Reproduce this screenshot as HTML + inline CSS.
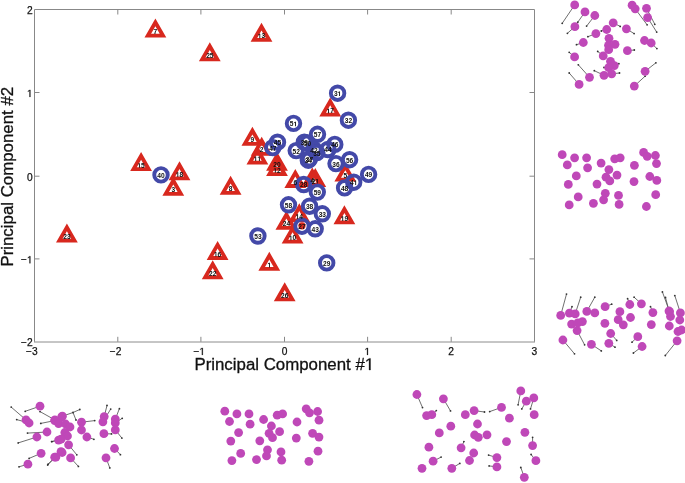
<!DOCTYPE html>
<html><head><meta charset="utf-8"><title>PCA</title>
<style>html,body{margin:0;padding:0;background:#fff;}body{width:685px;height:483px;overflow:hidden;font-family:"Liberation Sans",sans-serif;}svg{display:block;will-change:transform;filter:blur(0.35px);}</style>
</head><body>
<svg width="685" height="483" viewBox="0 0 685 483">
<rect width="685" height="483" fill="#fff"/>
<g stroke="#888888" stroke-width="1" fill="none">
<path d="M34.5 341.8V9.5H534.5V341.8"/>
<path d="M34 342H535" stroke="#8c8c8c"/>
<path d="M117.8 341.8v-5 M117.8 9.5v5"/>
<path d="M200.9 341.8v-5 M200.9 9.5v5"/>
<path d="M284.5 341.8v-5 M284.5 9.5v5"/>
<path d="M367.6 341.8v-5 M367.6 9.5v5"/>
<path d="M451.2 341.8v-5 M451.2 9.5v5"/>
<path d="M34.5 92.5h5 M534.5 92.5h-5"/>
<path d="M34.5 176.2h5 M534.5 176.2h-5"/>
<path d="M34.5 258.9h5 M534.5 258.9h-5"/>
</g>
<g font-family="Liberation Sans, sans-serif" font-size="10.2" fill="#111" stroke="#111" stroke-width="0.25">
<text id="t1" x="31.8" y="354.9" text-anchor="middle">−3</text>
<text id="t2" x="115.5" y="354.9" text-anchor="middle">−2</text>
<text id="t3" x="199.2" y="354.9" text-anchor="middle">− </text><path transform="translate(199.32 354.90) scale(0.00498 -0.00498)" stroke-width="50.2" d="M515 0V1237L197 1010V1180L530 1409H696V0Z"/>
<text id="t4" x="284.5" y="354.9" text-anchor="middle">0</text>
<text id="t5" x="367.3" y="354.9" text-anchor="middle"> </text><path transform="translate(364.46 354.90) scale(0.00498 -0.00498)" stroke-width="50.2" d="M515 0V1237L197 1010V1180L530 1409H696V0Z"/>
<text id="t6" x="451.2" y="354.9" text-anchor="middle">2</text>
<text id="t7" x="534.3" y="354.9" text-anchor="middle">3</text>
<text id="t8" x="32.6" y="13.9" text-anchor="end">2</text>
<text id="t9" x="32.6" y="96.9" text-anchor="end"> </text><path transform="translate(26.93 96.90) scale(0.00498 -0.00498)" stroke-width="50.2" d="M515 0V1237L197 1010V1180L530 1409H696V0Z"/>
<text id="t10" x="32.6" y="180.6" text-anchor="end">0</text>
<text id="t11" x="32.6" y="263.3" text-anchor="end">− </text><path transform="translate(26.91 263.30) scale(0.00498 -0.00498)" stroke-width="50.2" d="M515 0V1237L197 1010V1180L530 1409H696V0Z"/>
<text id="t12" x="32.6" y="346.2" text-anchor="end">−2</text>
</g>
<g font-family="Liberation Sans, sans-serif" font-size="16.85" fill="#111" stroke="#111" stroke-width="0.3">
<text id="t13" x="284.3" y="370" text-anchor="middle">Principal Component # </text><path transform="translate(364.80 370.00) scale(0.00823 -0.00823)" stroke-width="36.5" d="M515 0V1237L197 1010V1180L530 1409H696V0Z"/>
</g>
<text transform="translate(12.9 176.7) rotate(-90)" x="0" y="0" text-anchor="middle" font-family="Liberation Sans, sans-serif" font-size="16.85" fill="#111" stroke="#111" stroke-width="0.3">Principal Component #2</text>
<g fill="#d8281e" fill-rule="evenodd">
<path d="M66.9 223.5L77.8 242.5L56 242.5ZM66.9 231.2L62.6 238.7L71.2 238.7Z"/>
<path d="M141.1 152.1L152 171.1L130.2 171.1ZM141.1 159.8L136.8 167.3L145.4 167.3Z"/>
<path d="M155.4 18.5L166.3 37.5L144.5 37.5ZM155.4 26.2L151.1 33.7L159.7 33.7Z"/>
<path d="M179.5 161.3L190.4 180.3L168.6 180.3ZM179.5 169L175.2 176.5L183.8 176.5Z"/>
<path d="M173.3 176.8L184.2 195.8L162.4 195.8ZM173.3 184.5L169 192L177.6 192Z"/>
<path d="M209.8 42.3L220.7 61.3L198.9 61.3ZM209.8 50L205.5 57.5L214.1 57.5Z"/>
<path d="M230.6 175.8L241.5 194.8L219.7 194.8ZM230.6 183.5L226.3 191L234.9 191Z"/>
<path d="M217.6 240.9L228.5 259.9L206.7 259.9ZM217.6 248.6L213.3 256.1L221.9 256.1Z"/>
<path d="M212.7 260.3L223.6 279.3L201.8 279.3ZM212.7 268L208.4 275.5L217 275.5Z"/>
<path d="M261.5 22.7L272.4 41.7L250.6 41.7ZM261.5 30.4L257.2 37.9L265.8 37.9Z"/>
<path d="M252.4 126.8L263.3 145.8L241.5 145.8ZM252.4 134.5L248.1 142L256.7 142Z"/>
<path d="M261.7 136.8L272.6 155.8L250.8 155.8ZM261.7 144.5L257.4 152L266 152Z"/>
<path d="M257.4 145.5L268.3 164.5L246.5 164.5ZM257.4 153.2L253.1 160.7L261.7 160.7Z"/>
<path d="M277 151.8L287.9 170.8L266.1 170.8ZM277 159.5L272.7 167L281.3 167Z"/>
<path d="M277 157.1L287.9 176.1L266.1 176.1ZM277 164.8L272.7 172.3L281.3 172.3Z"/>
<path d="M269.3 251.8L280.2 270.8L258.4 270.8ZM269.3 259.5L265 267L273.6 267Z"/>
<path d="M284.7 282.3L295.6 301.3L273.8 301.3ZM284.7 290L280.4 297.5L289 297.5Z"/>
<path d="M295.3 168.9L306.2 187.9L284.4 187.9ZM295.3 176.6L291 184.1L299.6 184.1Z"/>
<path d="M312.3 167.5L323.2 186.5L301.4 186.5ZM312.3 175.2L308 182.7L316.6 182.7Z"/>
<path d="M315.3 167.9L326.2 186.9L304.4 186.9ZM315.3 175.6L311 183.1L319.6 183.1Z"/>
<path d="M299.3 203.3L310.2 222.3L288.4 222.3ZM299.3 211L295 218.5L303.6 218.5Z"/>
<path d="M286.4 210.8L297.3 229.8L275.5 229.8ZM286.4 218.5L282.1 226L290.7 226Z"/>
<path d="M292.6 224.6L303.5 243.6L281.7 243.6ZM292.6 232.3L288.3 239.8L296.9 239.8Z"/>
<path d="M330.2 97.6L341.1 116.6L319.3 116.6ZM330.2 105.3L325.9 112.8L334.5 112.8Z"/>
<path d="M345.3 162.5L356.2 181.5L334.4 181.5ZM345.3 170.2L341 177.7L349.6 177.7Z"/>
<path d="M344.4 205.3L355.3 224.3L333.5 224.3ZM344.4 213L340.1 220.5L348.7 220.5Z"/>
</g>
<circle cx="302.0" cy="225.8" r="3.6" fill="#d8281e"/>
<g fill="none" stroke="#4349a8" stroke-width="3.9">
<circle cx="161" cy="174.9" r="6.75"/>
<circle cx="277.5" cy="142.2" r="6.75"/>
<circle cx="272.8" cy="147.6" r="6.75"/>
<circle cx="293.5" cy="123.4" r="6.75"/>
<circle cx="296.2" cy="150.6" r="6.75"/>
<circle cx="304.3" cy="142.2" r="6.75"/>
<circle cx="307.5" cy="143" r="6.75"/>
<circle cx="317.5" cy="134.3" r="6.75"/>
<circle cx="314" cy="149.6" r="6.75"/>
<circle cx="316.8" cy="152.6" r="6.75"/>
<circle cx="309.5" cy="158.8" r="6.75"/>
<circle cx="308.3" cy="160.2" r="6.75"/>
<circle cx="328" cy="149.5" r="6.75"/>
<circle cx="334.8" cy="144.4" r="6.75"/>
<circle cx="336" cy="163.6" r="6.75"/>
<circle cx="349.6" cy="159.7" r="6.75"/>
<circle cx="337.6" cy="93.2" r="6.75"/>
<circle cx="348.4" cy="120.2" r="6.75"/>
<circle cx="368.6" cy="174.4" r="6.75"/>
<circle cx="353.7" cy="182.2" r="6.75"/>
<circle cx="344.6" cy="187.9" r="6.75"/>
<circle cx="303.7" cy="184.5" r="6.75"/>
<circle cx="317.3" cy="192.1" r="6.75"/>
<circle cx="288.5" cy="204.8" r="6.75"/>
<circle cx="309.6" cy="206.2" r="6.75"/>
<circle cx="322.3" cy="213.8" r="6.75"/>
<circle cx="302" cy="226.2" r="6.75"/>
<circle cx="315.2" cy="228.8" r="6.75"/>
<circle cx="257.9" cy="236" r="6.75"/>
<circle cx="326.7" cy="262.9" r="6.75"/>
</g>
<g font-family="Liberation Sans, sans-serif" font-size="6.6" font-weight="bold" fill="#111" text-anchor="middle">
<text id="t14" x="66.9" y="239.1">23</text>
<text id="t15" x="141.1" y="167.7"> 5</text><path transform="translate(137.43 167.70) scale(0.00322 -0.00322)" stroke="none" d="M478 0V1170L140 959V1180L493 1409H759V0Z"/>
<text id="t16" x="155.4" y="34.1">7</text>
<text id="t17" x="179.5" y="176.9"> 8</text><path transform="translate(175.83 176.90) scale(0.00322 -0.00322)" stroke="none" d="M478 0V1170L140 959V1180L493 1409H759V0Z"/>
<text id="t18" x="173.3" y="192.4">3</text>
<text id="t19" x="209.8" y="57.9">25</text>
<text id="t20" x="230.6" y="191.4">8</text>
<text id="t21" x="217.6" y="256.5"> 6</text><path transform="translate(213.93 256.50) scale(0.00322 -0.00322)" stroke="none" d="M478 0V1170L140 959V1180L493 1409H759V0Z"/>
<text id="t22" x="212.7" y="275.9">22</text>
<text id="t23" x="261.5" y="38.3"> 3</text><path transform="translate(257.83 38.30) scale(0.00322 -0.00322)" stroke="none" d="M478 0V1170L140 959V1180L493 1409H759V0Z"/>
<text id="t24" x="252.4" y="142.4">9</text>
<text id="t25" x="261.7" y="152.4">2</text>
<text id="t26" x="257.4" y="161.1">  </text><path transform="translate(253.73 161.10) scale(0.00322 -0.00322)" stroke="none" d="M478 0V1170L140 959V1180L493 1409H759V0Z"/><path transform="translate(257.38 161.10) scale(0.00322 -0.00322)" stroke="none" d="M478 0V1170L140 959V1180L493 1409H759V0Z"/>
<text id="t27" x="277" y="167.4">20</text>
<text id="t28" x="277" y="172.7"> 2</text><path transform="translate(273.33 172.70) scale(0.00322 -0.00322)" stroke="none" d="M478 0V1170L140 959V1180L493 1409H759V0Z"/>
<text id="t29" x="269.3" y="267.4"> </text><path transform="translate(267.46 267.40) scale(0.00322 -0.00322)" stroke="none" d="M478 0V1170L140 959V1180L493 1409H759V0Z"/>
<text id="t30" x="284.7" y="297.9">26</text>
<text id="t31" x="295.3" y="184.5">6</text>
<text id="t32" x="312.3" y="183.1">4</text>
<text id="t33" x="315.3" y="183.5">2 </text><path transform="translate(315.28 183.50) scale(0.00322 -0.00322)" stroke="none" d="M478 0V1170L140 959V1180L493 1409H759V0Z"/>
<text id="t34" x="299.3" y="218.9"> 4</text><path transform="translate(295.63 218.90) scale(0.00322 -0.00322)" stroke="none" d="M478 0V1170L140 959V1180L493 1409H759V0Z"/>
<text id="t35" x="286.4" y="226.4">24</text>
<text id="t36" x="292.6" y="240.2"> 0</text><path transform="translate(288.93 240.20) scale(0.00322 -0.00322)" stroke="none" d="M478 0V1170L140 959V1180L493 1409H759V0Z"/>
<text id="t37" x="330.2" y="113.2"> 7</text><path transform="translate(326.53 113.20) scale(0.00322 -0.00322)" stroke="none" d="M478 0V1170L140 959V1180L493 1409H759V0Z"/>
<text id="t38" x="345.3" y="178.1">5</text>
<text id="t39" x="344.4" y="220.9"> 9</text><path transform="translate(340.73 220.90) scale(0.00322 -0.00322)" stroke="none" d="M478 0V1170L140 959V1180L493 1409H759V0Z"/>
<text id="t40" x="161" y="177.8">40</text>
<text id="t41" x="277.5" y="145.1">45</text>
<text id="t42" x="272.8" y="150.5">47</text>
<text id="t43" x="293.5" y="126.3">5 </text><path transform="translate(293.48 126.30) scale(0.00322 -0.00322)" stroke="none" d="M478 0V1170L140 959V1180L493 1409H759V0Z"/>
<text id="t44" x="296.2" y="153.5">52</text>
<text id="t45" x="304.3" y="145.1">39</text>
<text id="t46" x="307.5" y="145.9">50</text>
<text id="t47" x="317.5" y="137.2">57</text>
<text id="t48" x="314" y="152.5">42</text>
<text id="t49" x="316.8" y="155.5">35</text>
<text id="t50" x="309.5" y="161.7">37</text>
<text id="t51" x="308.3" y="163.1">34</text>
<text id="t52" x="328" y="152.4">44</text>
<text id="t53" x="334.8" y="147.3">46</text>
<text id="t54" x="336" y="166.5">36</text>
<text id="t55" x="349.6" y="162.6">56</text>
<text id="t56" x="337.6" y="96.1">3 </text><path transform="translate(337.58 96.10) scale(0.00322 -0.00322)" stroke="none" d="M478 0V1170L140 959V1180L493 1409H759V0Z"/>
<text id="t57" x="348.4" y="123.1">32</text>
<text id="t58" x="368.6" y="177.3">49</text>
<text id="t59" x="353.7" y="185.1">4 </text><path transform="translate(353.68 185.10) scale(0.00322 -0.00322)" stroke="none" d="M478 0V1170L140 959V1180L493 1409H759V0Z"/>
<text id="t60" x="344.6" y="190.8">48</text>
<text id="t61" x="303.7" y="187.4">28</text>
<text id="t62" x="317.3" y="195">59</text>
<text id="t63" x="288.5" y="207.7">58</text>
<text id="t64" x="309.6" y="209.1">38</text>
<text id="t65" x="322.3" y="216.7">33</text>
<text id="t66" x="302" y="229.1">27</text>
<text id="t67" x="315.2" y="231.7">43</text>
<text id="t68" x="257.9" y="238.9">53</text>
<text id="t69" x="326.7" y="265.8">29</text>
</g>
<g stroke="#555" stroke-width="0.85" fill="none"><line x1="574.7" y1="4.9" x2="562.2" y2="23.3"/><line x1="585" y1="11.9" x2="577.8" y2="22.2"/><line x1="594.8" y1="15.5" x2="586.6" y2="26.1"/><line x1="574.9" y1="26.7" x2="567.4" y2="33.3"/><line x1="595.9" y1="33.6" x2="587.9" y2="36.7"/><line x1="583.3" y1="42.5" x2="576.5" y2="44.7"/><line x1="613.2" y1="22.8" x2="620.2" y2="26.4"/><line x1="606.7" y1="29.5" x2="601.3" y2="31"/><line x1="635.2" y1="8.8" x2="647.1" y2="24.8"/><line x1="646.5" y1="8.3" x2="654.8" y2="24.3"/><line x1="647.6" y1="17.6" x2="656.7" y2="32.1"/><line x1="626.4" y1="28.8" x2="634.1" y2="33.6"/><line x1="651.2" y1="43" x2="656.9" y2="48.6"/><line x1="627.4" y1="50.7" x2="634.3" y2="50"/><line x1="574.6" y1="56.9" x2="569.2" y2="52.3"/><line x1="589.5" y1="77.3" x2="578.3" y2="64.8"/><line x1="579.1" y1="84.4" x2="569.2" y2="73"/><line x1="603.2" y1="55.9" x2="597.7" y2="51.4"/><line x1="614.3" y1="65.6" x2="618.9" y2="63.7"/><line x1="608.7" y1="67.7" x2="604" y2="67.5"/><line x1="604" y1="75.3" x2="594.3" y2="70.7"/><line x1="611.7" y1="73.8" x2="619.5" y2="73"/><line x1="645.1" y1="71.3" x2="655.9" y2="62.8"/><line x1="634.3" y1="86.1" x2="645.1" y2="76.2"/></g><g fill="#333"><circle cx="562.2" cy="23.3" r="0.9"/><circle cx="577.8" cy="22.2" r="0.9"/><circle cx="586.6" cy="26.1" r="0.9"/><circle cx="567.4" cy="33.3" r="0.9"/><circle cx="587.9" cy="36.7" r="0.9"/><circle cx="576.5" cy="44.7" r="0.9"/><circle cx="620.2" cy="26.4" r="0.9"/><circle cx="601.3" cy="31" r="0.9"/><circle cx="647.1" cy="24.8" r="0.9"/><circle cx="654.8" cy="24.3" r="0.9"/><circle cx="656.7" cy="32.1" r="0.9"/><circle cx="634.1" cy="33.6" r="0.9"/><circle cx="656.9" cy="48.6" r="0.9"/><circle cx="634.3" cy="50" r="0.9"/><circle cx="569.2" cy="52.3" r="0.9"/><circle cx="578.3" cy="64.8" r="0.9"/><circle cx="569.2" cy="73" r="0.9"/><circle cx="597.7" cy="51.4" r="0.9"/><circle cx="618.9" cy="63.7" r="0.9"/><circle cx="604" cy="67.5" r="0.9"/><circle cx="594.3" cy="70.7" r="0.9"/><circle cx="619.5" cy="73" r="0.9"/><circle cx="655.9" cy="62.8" r="0.9"/><circle cx="645.1" cy="76.2" r="0.9"/></g><g fill="#bf48b8"><circle cx="574.7" cy="4.9" r="4.4"/><circle cx="585" cy="11.9" r="4.4"/><circle cx="594.8" cy="15.5" r="4.4"/><circle cx="574.9" cy="26.7" r="4.4"/><circle cx="595.9" cy="33.6" r="4.4"/><circle cx="583.3" cy="42.5" r="4.4"/><circle cx="613.2" cy="22.8" r="4.4"/><circle cx="606.7" cy="29.5" r="4.4"/><circle cx="609" cy="38.3" r="4.4"/><circle cx="608.5" cy="45.3" r="4.4"/><circle cx="615" cy="44.3" r="4.4"/><circle cx="608.7" cy="49.7" r="4.4"/><circle cx="632.1" cy="5.2" r="4.4"/><circle cx="635.2" cy="8.8" r="4.4"/><circle cx="646.5" cy="8.3" r="4.4"/><circle cx="647.6" cy="17.6" r="4.4"/><circle cx="626.4" cy="28.8" r="4.4"/><circle cx="644.5" cy="40.5" r="4.4"/><circle cx="651.2" cy="43" r="4.4"/><circle cx="627.4" cy="50.7" r="4.4"/><circle cx="574.6" cy="56.9" r="4.4"/><circle cx="589.5" cy="77.3" r="4.4"/><circle cx="579.1" cy="84.4" r="4.4"/><circle cx="603.2" cy="55.9" r="4.4"/><circle cx="610.5" cy="61.3" r="4.4"/><circle cx="614.3" cy="65.6" r="4.4"/><circle cx="608.7" cy="67.7" r="4.4"/><circle cx="604" cy="75.3" r="4.4"/><circle cx="611.7" cy="73.8" r="4.4"/><circle cx="645.1" cy="71.3" r="4.4"/><circle cx="634.3" cy="86.1" r="4.4"/></g>
<g stroke="#555" stroke-width="0.85" fill="none"></g><g fill="#333"></g><g fill="#bf48b8"><circle cx="562.2" cy="154.7" r="4.4"/><circle cx="574.6" cy="157.8" r="4.4"/><circle cx="586.6" cy="157.8" r="4.4"/><circle cx="567.3" cy="164.9" r="4.4"/><circle cx="587.6" cy="167.8" r="4.4"/><circle cx="601.1" cy="163.1" r="4.4"/><circle cx="614.7" cy="158.8" r="4.4"/><circle cx="620.2" cy="157.8" r="4.4"/><circle cx="608.9" cy="169.6" r="4.4"/><circle cx="617" cy="175.1" r="4.4"/><circle cx="606" cy="177.2" r="4.4"/><circle cx="609.8" cy="180.9" r="4.4"/><circle cx="576.3" cy="175.9" r="4.4"/><circle cx="568.3" cy="184.4" r="4.4"/><circle cx="597" cy="184.1" r="4.4"/><circle cx="605.3" cy="193.3" r="4.4"/><circle cx="603.6" cy="199.8" r="4.4"/><circle cx="618.5" cy="195.4" r="4.4"/><circle cx="619.1" cy="204.4" r="4.4"/><circle cx="578.2" cy="196.9" r="4.4"/><circle cx="569.2" cy="204.9" r="4.4"/><circle cx="593.4" cy="203.3" r="4.4"/><circle cx="634.4" cy="165.3" r="4.4"/><circle cx="634" cy="181.6" r="4.4"/><circle cx="643.6" cy="152.4" r="4.4"/><circle cx="647.2" cy="156.3" r="4.4"/><circle cx="655.4" cy="155.5" r="4.4"/><circle cx="656.5" cy="163.6" r="4.4"/><circle cx="649.8" cy="176.5" r="4.4"/><circle cx="656.8" cy="180.4" r="4.4"/><circle cx="655.7" cy="194.7" r="4.4"/><circle cx="646.4" cy="206.5" r="4.4"/></g>
<g stroke="#555" stroke-width="0.85" fill="none"><line x1="560.7" y1="315.4" x2="566.5" y2="294.1"/><line x1="569.4" y1="313.2" x2="572" y2="306.7"/><line x1="575.2" y1="313.9" x2="580.7" y2="297.2"/><line x1="586.8" y1="311.4" x2="594.8" y2="297.2"/><line x1="577.1" y1="330.6" x2="584.6" y2="344.8"/><line x1="562.9" y1="340" x2="574.5" y2="353.8"/><line x1="591.4" y1="344.3" x2="601.3" y2="350.9"/><line x1="605.1" y1="306.7" x2="611.7" y2="304.2"/><line x1="629.8" y1="304.5" x2="627.6" y2="298.7"/><line x1="641.4" y1="303.8" x2="634.1" y2="297.2"/><line x1="610.7" y1="333.5" x2="616.7" y2="340.4"/><line x1="608.8" y1="343.3" x2="615" y2="347.2"/><line x1="637.8" y1="336.7" x2="632" y2="342.2"/><line x1="642.1" y1="346.5" x2="633.4" y2="353"/><line x1="652.9" y1="312.6" x2="650.5" y2="306.7"/><line x1="669.6" y1="311.7" x2="662.4" y2="291.9"/><line x1="669" y1="311" x2="665.5" y2="297.5"/><line x1="680.4" y1="312.9" x2="674.8" y2="295.6"/><line x1="677.1" y1="340.8" x2="665.3" y2="355.5"/></g><g fill="#333"><circle cx="566.5" cy="294.1" r="0.9"/><circle cx="572" cy="306.7" r="0.9"/><circle cx="580.7" cy="297.2" r="0.9"/><circle cx="594.8" cy="297.2" r="0.9"/><circle cx="584.6" cy="344.8" r="0.9"/><circle cx="574.5" cy="353.8" r="0.9"/><circle cx="601.3" cy="350.9" r="0.9"/><circle cx="611.7" cy="304.2" r="0.9"/><circle cx="627.6" cy="298.7" r="0.9"/><circle cx="634.1" cy="297.2" r="0.9"/><circle cx="616.7" cy="340.4" r="0.9"/><circle cx="615" cy="347.2" r="0.9"/><circle cx="632" cy="342.2" r="0.9"/><circle cx="633.4" cy="353" r="0.9"/><circle cx="650.5" cy="306.7" r="0.9"/><circle cx="662.4" cy="291.9" r="0.9"/><circle cx="665.5" cy="297.5" r="0.9"/><circle cx="674.8" cy="295.6" r="0.9"/><circle cx="665.3" cy="355.5" r="0.9"/></g><g fill="#bf48b8"><circle cx="560.7" cy="315.4" r="4.4"/><circle cx="569.4" cy="313.2" r="4.4"/><circle cx="575.2" cy="313.9" r="4.4"/><circle cx="586.8" cy="311.4" r="4.4"/><circle cx="594.8" cy="312.9" r="4.4"/><circle cx="571.6" cy="324.1" r="4.4"/><circle cx="582.4" cy="321.6" r="4.4"/><circle cx="577.8" cy="322.8" r="4.4"/><circle cx="577.1" cy="330.6" r="4.4"/><circle cx="562.9" cy="340" r="4.4"/><circle cx="591.4" cy="344.3" r="4.4"/><circle cx="605.1" cy="306.7" r="4.4"/><circle cx="619.9" cy="311.7" r="4.4"/><circle cx="618.2" cy="319.7" r="4.4"/><circle cx="623.3" cy="324.8" r="4.4"/><circle cx="630.5" cy="317.5" r="4.4"/><circle cx="629.8" cy="304.5" r="4.4"/><circle cx="641.4" cy="303.8" r="4.4"/><circle cx="604.9" cy="323.3" r="4.4"/><circle cx="610.7" cy="333.5" r="4.4"/><circle cx="608.8" cy="343.3" r="4.4"/><circle cx="637.8" cy="336.7" r="4.4"/><circle cx="642.1" cy="346.5" r="4.4"/><circle cx="652.9" cy="312.6" r="4.4"/><circle cx="651.3" cy="324.6" r="4.4"/><circle cx="669.6" cy="311.7" r="4.4"/><circle cx="669" cy="311" r="4.4"/><circle cx="670.5" cy="316.5" r="4.4"/><circle cx="680.4" cy="312.9" r="4.4"/><circle cx="679.8" cy="320" r="4.4"/><circle cx="669.3" cy="326" r="4.4"/><circle cx="678" cy="331.5" r="4.4"/><circle cx="681.6" cy="330" r="4.4"/><circle cx="677.1" cy="340.8" r="4.4"/></g>
<g stroke="#555" stroke-width="0.85" fill="none"><line x1="40" y1="406.2" x2="25.2" y2="411.3"/><line x1="26" y1="419.9" x2="11.2" y2="407.1"/><line x1="29.1" y1="423" x2="16.7" y2="419.6"/><line x1="47" y1="432" x2="27.5" y2="433.1"/><line x1="36.9" y1="437" x2="18.2" y2="442.9"/><line x1="41.1" y1="453.3" x2="29.1" y2="458.4"/><line x1="27.9" y1="464.2" x2="19" y2="466.8"/><line x1="54.7" y1="457.2" x2="47.7" y2="465"/><line x1="54.7" y1="420.6" x2="40.8" y2="423.4"/><line x1="58.6" y1="440.1" x2="51.6" y2="441.6"/><line x1="54.9" y1="419.9" x2="40" y2="411.6"/><line x1="62.4" y1="416.2" x2="73" y2="412.5"/><line x1="73" y1="412.5" x2="79.8" y2="409.5"/><line x1="73" y1="412.5" x2="76" y2="420"/><line x1="61.1" y1="439.2" x2="52" y2="441.6"/><line x1="68.6" y1="444.8" x2="76.8" y2="454.8"/><line x1="81.5" y1="422.2" x2="94.7" y2="420.6"/><line x1="86.9" y1="437" x2="93.9" y2="439.3"/><line x1="55.9" y1="457.1" x2="48.1" y2="464.1"/><line x1="70.6" y1="457.9" x2="78.4" y2="466.4"/><line x1="104.2" y1="416.6" x2="107" y2="405.4"/><line x1="102.9" y1="421.8" x2="110.7" y2="409.1"/><line x1="115.3" y1="419.1" x2="119.4" y2="408.7"/><line x1="115.3" y1="422.9" x2="122.2" y2="418.3"/><line x1="115.3" y1="429.9" x2="121.9" y2="438.1"/><line x1="103.9" y1="433.7" x2="111.5" y2="433.9"/><line x1="114.5" y1="448.5" x2="120.4" y2="454.7"/><line x1="106" y1="457.8" x2="109.8" y2="467.9"/></g><g fill="#333"><circle cx="25.2" cy="411.3" r="0.9"/><circle cx="11.2" cy="407.1" r="0.9"/><circle cx="16.7" cy="419.6" r="0.9"/><circle cx="27.5" cy="433.1" r="0.9"/><circle cx="18.2" cy="442.9" r="0.9"/><circle cx="29.1" cy="458.4" r="0.9"/><circle cx="19" cy="466.8" r="0.9"/><circle cx="47.7" cy="465" r="0.9"/><circle cx="40.8" cy="423.4" r="0.9"/><circle cx="51.6" cy="441.6" r="0.9"/><circle cx="40" cy="411.6" r="0.9"/><circle cx="73" cy="412.5" r="0.9"/><circle cx="79.8" cy="409.5" r="0.9"/><circle cx="76" cy="420" r="0.9"/><circle cx="52" cy="441.6" r="0.9"/><circle cx="76.8" cy="454.8" r="0.9"/><circle cx="94.7" cy="420.6" r="0.9"/><circle cx="93.9" cy="439.3" r="0.9"/><circle cx="48.1" cy="464.1" r="0.9"/><circle cx="78.4" cy="466.4" r="0.9"/><circle cx="107" cy="405.4" r="0.9"/><circle cx="110.7" cy="409.1" r="0.9"/><circle cx="119.4" cy="408.7" r="0.9"/><circle cx="122.2" cy="418.3" r="0.9"/><circle cx="121.9" cy="438.1" r="0.9"/><circle cx="111.5" cy="433.9" r="0.9"/><circle cx="120.4" cy="454.7" r="0.9"/><circle cx="109.8" cy="467.9" r="0.9"/></g><g fill="#bf48b8"><circle cx="40" cy="406.2" r="4.4"/><circle cx="26" cy="419.9" r="4.4"/><circle cx="29.1" cy="423" r="4.4"/><circle cx="47" cy="432" r="4.4"/><circle cx="36.9" cy="437" r="4.4"/><circle cx="41.1" cy="453.3" r="4.4"/><circle cx="27.9" cy="464.2" r="4.4"/><circle cx="54.7" cy="457.2" r="4.4"/><circle cx="54.7" cy="420.6" r="4.4"/><circle cx="61.7" cy="416.8" r="4.4"/><circle cx="58.6" cy="440.1" r="4.4"/><circle cx="61" cy="451.7" r="4.4"/><circle cx="54.9" cy="419.9" r="4.4"/><circle cx="62.4" cy="416.2" r="4.4"/><circle cx="58.6" cy="423.6" r="4.4"/><circle cx="65.5" cy="424" r="4.4"/><circle cx="70" cy="427" r="4.4"/><circle cx="64.8" cy="432.5" r="4.4"/><circle cx="67.5" cy="436" r="4.4"/><circle cx="61.1" cy="439.2" r="4.4"/><circle cx="68.6" cy="444.8" r="4.4"/><circle cx="81.5" cy="422.2" r="4.4"/><circle cx="81.5" cy="430" r="4.4"/><circle cx="86.9" cy="437" r="4.4"/><circle cx="62.1" cy="452.5" r="4.4"/><circle cx="55.9" cy="457.1" r="4.4"/><circle cx="70.6" cy="457.9" r="4.4"/><circle cx="104.2" cy="416.6" r="4.4"/><circle cx="102.9" cy="421.8" r="4.4"/><circle cx="115.3" cy="419.1" r="4.4"/><circle cx="115.3" cy="422.9" r="4.4"/><circle cx="115.3" cy="429.9" r="4.4"/><circle cx="103.9" cy="433.7" r="4.4"/><circle cx="114.5" cy="448.5" r="4.4"/><circle cx="106" cy="457.8" r="4.4"/></g>
<g stroke="#555" stroke-width="0.85" fill="none"></g><g fill="#333"></g><g fill="#bf48b8"><circle cx="224.8" cy="411.2" r="4.4"/><circle cx="236.9" cy="413.9" r="4.4"/><circle cx="249" cy="413.9" r="4.4"/><circle cx="229.5" cy="421.5" r="4.4"/><circle cx="250.1" cy="424.2" r="4.4"/><circle cx="263.6" cy="419.5" r="4.4"/><circle cx="238.6" cy="432.6" r="4.4"/><circle cx="230.8" cy="441.1" r="4.4"/><circle cx="259.8" cy="440.8" r="4.4"/><circle cx="240.7" cy="453.4" r="4.4"/><circle cx="231.9" cy="460.6" r="4.4"/><circle cx="256.5" cy="459.6" r="4.4"/><circle cx="267.5" cy="449.8" r="4.4"/><circle cx="266.5" cy="455.9" r="4.4"/><circle cx="277.2" cy="415.2" r="4.4"/><circle cx="282.6" cy="413.9" r="4.4"/><circle cx="271.4" cy="426" r="4.4"/><circle cx="279.6" cy="431.7" r="4.4"/><circle cx="269.1" cy="433.3" r="4.4"/><circle cx="272.5" cy="437.7" r="4.4"/><circle cx="281" cy="451.9" r="4.4"/><circle cx="281.7" cy="460.2" r="4.4"/><circle cx="297" cy="422" r="4.4"/><circle cx="296.3" cy="438.1" r="4.4"/><circle cx="306.2" cy="408.8" r="4.4"/><circle cx="309.5" cy="412.8" r="4.4"/><circle cx="317.6" cy="411.5" r="4.4"/><circle cx="319" cy="420.2" r="4.4"/><circle cx="312.6" cy="433.3" r="4.4"/><circle cx="319" cy="437.1" r="4.4"/><circle cx="318" cy="451.2" r="4.4"/><circle cx="308.9" cy="461.3" r="4.4"/></g>
<g stroke="#555" stroke-width="0.85" fill="none"><line x1="416.9" y1="394.5" x2="422.5" y2="407.6"/><line x1="443.4" y1="398.8" x2="450.5" y2="410.9"/><line x1="431.8" y1="414.7" x2="436.3" y2="410.6"/><line x1="474.1" y1="410.6" x2="484.5" y2="412"/><line x1="461.1" y1="447.8" x2="463.9" y2="441.6"/><line x1="433.1" y1="461.2" x2="441.1" y2="457.1"/><line x1="451.8" y1="468.3" x2="459.8" y2="463.4"/><line x1="501.5" y1="407.4" x2="489.7" y2="411.6"/><line x1="496.9" y1="457.6" x2="488.6" y2="455.1"/><line x1="496.9" y1="466.9" x2="489.1" y2="465.9"/><line x1="520.8" y1="390.9" x2="518.1" y2="404.8"/><line x1="526.3" y1="401.2" x2="521.8" y2="408.9"/><line x1="533.8" y1="397.9" x2="530.5" y2="408.9"/><line x1="532.6" y1="445.6" x2="532.6" y2="437.3"/><line x1="535.9" y1="460.7" x2="531.1" y2="454.5"/><line x1="524.3" y1="477.3" x2="520.8" y2="467.5"/></g><g fill="#333"><circle cx="422.5" cy="407.6" r="0.9"/><circle cx="450.5" cy="410.9" r="0.9"/><circle cx="436.3" cy="410.6" r="0.9"/><circle cx="484.5" cy="412" r="0.9"/><circle cx="463.9" cy="441.6" r="0.9"/><circle cx="441.1" cy="457.1" r="0.9"/><circle cx="459.8" cy="463.4" r="0.9"/><circle cx="489.7" cy="411.6" r="0.9"/><circle cx="488.6" cy="455.1" r="0.9"/><circle cx="489.1" cy="465.9" r="0.9"/><circle cx="518.1" cy="404.8" r="0.9"/><circle cx="521.8" cy="408.9" r="0.9"/><circle cx="530.5" cy="408.9" r="0.9"/><circle cx="532.6" cy="437.3" r="0.9"/><circle cx="531.1" cy="454.5" r="0.9"/><circle cx="520.8" cy="467.5" r="0.9"/></g><g fill="#bf48b8"><circle cx="416.9" cy="394.5" r="4.4"/><circle cx="443.4" cy="398.8" r="4.4"/><circle cx="426.6" cy="415.6" r="4.4"/><circle cx="431.8" cy="414.7" r="4.4"/><circle cx="465.3" cy="414.7" r="4.4"/><circle cx="474.1" cy="410.6" r="4.4"/><circle cx="450.8" cy="426.2" r="4.4"/><circle cx="439.3" cy="432.9" r="4.4"/><circle cx="428.9" cy="447.2" r="4.4"/><circle cx="461.1" cy="447.8" r="4.4"/><circle cx="433.1" cy="461.2" r="4.4"/><circle cx="422" cy="468.3" r="4.4"/><circle cx="451.8" cy="468.3" r="4.4"/><circle cx="469.5" cy="460.5" r="4.4"/><circle cx="473.7" cy="453" r="4.4"/><circle cx="474.6" cy="435" r="4.4"/><circle cx="478.3" cy="437.3" r="4.4"/><circle cx="477.5" cy="424" r="4.4"/><circle cx="487" cy="434.8" r="4.4"/><circle cx="501.5" cy="407.4" r="4.4"/><circle cx="509.4" cy="418.2" r="4.4"/><circle cx="506.5" cy="441.6" r="4.4"/><circle cx="496.9" cy="457.6" r="4.4"/><circle cx="496.9" cy="466.9" r="4.4"/><circle cx="520.8" cy="390.9" r="4.4"/><circle cx="526.3" cy="401.2" r="4.4"/><circle cx="533.8" cy="397.9" r="4.4"/><circle cx="534.2" cy="414.7" r="4.4"/><circle cx="524.9" cy="432.3" r="4.4"/><circle cx="532.6" cy="445.6" r="4.4"/><circle cx="535.9" cy="460.7" r="4.4"/><circle cx="524.3" cy="477.3" r="4.4"/></g>
</svg>
</body></html>
